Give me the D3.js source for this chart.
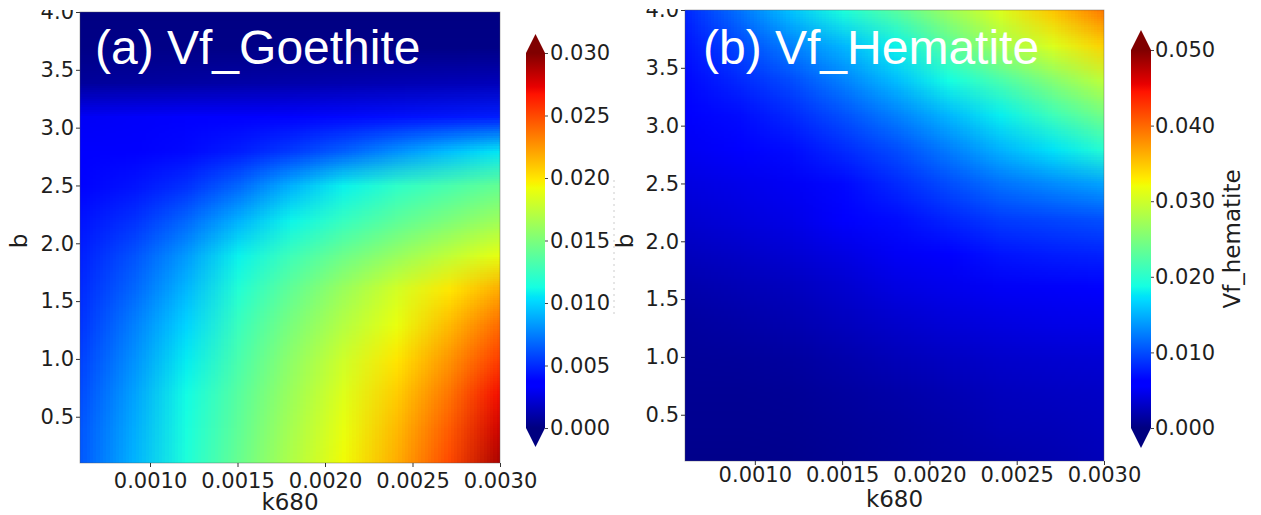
<!DOCTYPE html>
<html>
<head>
<meta charset="utf-8">
<script src="https://cdn.jsdelivr.net/npm/d3@7"></script>
<style>
  html, body { margin: 0; padding: 0; background: #fff; }
  svg { display: block; }
</style>
</head>
<body>
<div id="chart"></div>
<script>
// Grid the two maps were read on
const kValues = [0.0006, 0.0009, 0.0012, 0.0015, 0.0018, 0.0021, 0.0024, 0.0027, 0.0030];
const bValues = [0.1, 0.4, 0.7, 1.0, 1.3, 1.6, 1.9, 2.2, 2.5, 2.8, 3.1, 3.4, 3.7, 4.0];

// Vf_Goethite, one row per b value (bottom row first)
const goethite = [
    [0.0064, 0.0090, 0.0116, 0.0143, 0.0169, 0.0193, 0.0218, 0.0250, 0.0290],
    [0.0063, 0.0088, 0.0114, 0.0140, 0.0166, 0.0190, 0.0214, 0.0244, 0.0280],
    [0.0060, 0.0085, 0.0112, 0.0137, 0.0162, 0.0186, 0.0208, 0.0236, 0.0270],
    [0.0057, 0.0080, 0.0107, 0.0132, 0.0157, 0.0180, 0.0200, 0.0226, 0.0255],
    [0.0053, 0.0075, 0.0100, 0.0126, 0.0150, 0.0171, 0.0190, 0.0214, 0.0240],
    [0.0050, 0.0068, 0.0092, 0.0118, 0.0141, 0.0162, 0.0182, 0.0200, 0.0220],
    [0.0047, 0.0062, 0.0083, 0.0109, 0.0128, 0.0145, 0.0160, 0.0175, 0.0190],
    [0.0043, 0.0052, 0.0068, 0.0090, 0.0110, 0.0125, 0.0139, 0.0151, 0.0163],
    [0.0038, 0.0043, 0.0052, 0.0068, 0.0090, 0.0109, 0.0122, 0.0132, 0.0142],
    [0.0035, 0.0036, 0.0040, 0.0046, 0.0055, 0.0066, 0.0080, 0.0094, 0.0106],
    [0.0031, 0.0032, 0.0034, 0.0036, 0.0038, 0.0040, 0.0042, 0.0044, 0.0046],
    [0.0007, 0.0008, 0.0009, 0.0010, 0.0011, 0.0012, 0.0013, 0.0014, 0.0015],
    [0.0002, 0.0002, 0.0002, 0.0002, 0.0002, 0.0002, 0.0002, 0.0002, 0.0002],
    [0.0001, 0.0001, 0.0001, 0.0001, 0.0001, 0.0001, 0.0001, 0.0001, 0.0001]
];

// Vf_Hematite, same layout
const hematite = [
    [0.0005, 0.0005, 0.0006, 0.0009, 0.0012, 0.0015, 0.0018, 0.0021, 0.0025],
    [0.0007, 0.0007, 0.0008, 0.0011, 0.0014, 0.0018, 0.0023, 0.0025, 0.0028],
    [0.0009, 0.0009, 0.0010, 0.0014, 0.0018, 0.0022, 0.0027, 0.0029, 0.0031],
    [0.0011, 0.0012, 0.0014, 0.0019, 0.0025, 0.0029, 0.0033, 0.0035, 0.0037],
    [0.0014, 0.0017, 0.0021, 0.0027, 0.0033, 0.0038, 0.0042, 0.0045, 0.0047],
    [0.0019, 0.0023, 0.0027, 0.0034, 0.0042, 0.0047, 0.0051, 0.0053, 0.0055],
    [0.0027, 0.0031, 0.0036, 0.0043, 0.0051, 0.0061, 0.0072, 0.0076, 0.0079],
    [0.0035, 0.0040, 0.0045, 0.0056, 0.0068, 0.0080, 0.0092, 0.0097, 0.0102],
    [0.0042, 0.0046, 0.0051, 0.0066, 0.0082, 0.0100, 0.0118, 0.0130, 0.0142],
    [0.0050, 0.0058, 0.0068, 0.0083, 0.0100, 0.0124, 0.0150, 0.0174, 0.0198],
    [0.0057, 0.0068, 0.0082, 0.0102, 0.0125, 0.0152, 0.0180, 0.0212, 0.0245],
    [0.0066, 0.0082, 0.0100, 0.0126, 0.0155, 0.0187, 0.0220, 0.0256, 0.0292],
    [0.0073, 0.0098, 0.0125, 0.0152, 0.0182, 0.0228, 0.0274, 0.0308, 0.0345],
    [0.0082, 0.0118, 0.0158, 0.0192, 0.0227, 0.0268, 0.0308, 0.0350, 0.0392]
];

const kTicks = [0.0010, 0.0015, 0.0020, 0.0025, 0.0030];
const bTicks = [0.5, 1.0, 1.5, 2.0, 2.5, 3.0, 3.5, 4.0];
const goethiteTicks = [0, 0.005, 0.010, 0.015, 0.020, 0.025, 0.030];
const hematiteTicks = [0, 0.010, 0.020, 0.030, 0.040, 0.050];

// matplotlib "jet", channel by channel
const jetR = d3.scaleLinear().domain([0, 0.35, 0.66, 0.89, 1]).range([0, 0, 1, 1, 0.5]).clamp(true);
const jetG = d3.scaleLinear().domain([0, 0.125, 0.375, 0.64, 0.91, 1]).range([0, 0, 1, 1, 0, 0]).clamp(true);
const jetB = d3.scaleLinear().domain([0, 0.11, 0.34, 0.65, 1]).range([0.5, 1, 1, 0, 0]).clamp(true);
const jetStops = [0, 0.11, 0.125, 0.34, 0.35, 0.375, 0.64, 0.65, 0.66, 0.89, 0.91, 1];
function jet(t) {
    return d3.rgb(Math.round(jetR(t) * 255), Math.round(jetG(t) * 255), Math.round(jetB(t) * 255));
}

const svg = d3.select("#chart")
    .append("svg")
    .attr("width", 1261)
    .attr("height", 515);

const tickFont = "'DejaVu Sans', sans-serif";

function drawPanel(p) {
    const x = d3.scaleLinear().domain([0.0006, 0.0030]).range([p.left, p.right]);
    const y = d3.scaleLinear().domain([0.1, 4.0]).range([p.bottom, p.top]);
    const color = d3.scaleLinear().domain([0, p.vmax]).range([0, 1]).clamp(true);

    const defs = svg.append("defs");
    // clip for the map
    defs.append("clipPath").attr("id", "clip-" + p.id)
        .append("rect")
        .attr("x", p.left).attr("y", p.top)
        .attr("width", p.right - p.left).attr("height", p.bottom - p.top);
    // the source figure was cropped just above the plot, cutting the top tick label
    defs.append("clipPath").attr("id", "crop-" + p.id)
        .append("rect")
        .attr("x", p.left - 90).attr("y", p.cropTop)
        .attr("width", 90).attr("height", 515);

    // paint the grid into a tiny bitmap, let the browser smooth it when stretched
    const nx = kValues.length, ny = bValues.length;
    const canvas = document.createElement("canvas");
    canvas.width = nx;
    canvas.height = ny;
    const ctx = canvas.getContext("2d");
    const img = ctx.createImageData(nx, ny);
    p.data.forEach((row, j) => {
        const r = ny - 1 - j;
        row.forEach((v, i) => {
            const c = jet(color(v));
            const o = (r * nx + i) * 4;
            img.data[o] = c.r;
            img.data[o + 1] = c.g;
            img.data[o + 2] = c.b;
            img.data[o + 3] = 255;
        });
    });
    ctx.putImageData(img, 0, 0);

    const dk = kValues[1] - kValues[0];
    const db = bValues[1] - bValues[0];
    const x0 = x(kValues[0] - dk / 2), x1 = x(kValues[nx - 1] + dk / 2);
    const y0 = y(bValues[ny - 1] + db / 2), y1 = y(bValues[0] - db / 2);

    svg.append("g").attr("clip-path", `url(#clip-${p.id})`)
        .append("image")
        .attr("href", canvas.toDataURL())
        .attr("x", x0).attr("y", y0)
        .attr("width", x1 - x0).attr("height", y1 - y0)
        .attr("preserveAspectRatio", "none");

    // frame
    svg.append("rect")
        .attr("x", p.left).attr("y", p.top)
        .attr("width", p.right - p.left).attr("height", p.bottom - p.top)
        .attr("fill", "none")
        .attr("stroke", "#555")
        .attr("stroke-opacity", 0.5)
        .attr("stroke-width", 0.8);

    // X axis
    const xAxis = svg.append("g")
        .attr("transform", `translate(0,${p.bottom})`)
        .call(d3.axisBottom(x).tickValues(kTicks).tickFormat(d3.format(".4f"))
            .tickSize(4).tickPadding(p.xPad).tickSizeOuter(0));
    // Y axis
    const yAxis = svg.append("g")
        .attr("clip-path", `url(#crop-${p.id})`)
        .append("g")
        .attr("transform", `translate(${p.left},0)`)
        .call(d3.axisLeft(y).tickValues(bTicks).tickFormat(d3.format(".1f"))
            .tickSize(4).tickPadding(2).tickSizeOuter(0));
    [xAxis, yAxis].forEach(a => {
        a.select(".domain").remove();
        a.selectAll("line").attr("stroke", "#333");
        a.selectAll("text")
            .style("font-family", tickFont)
            .style("font-size", "21px")
            .attr("fill", "#1e1e1e");
    });

    // axis labels
    svg.append("text")
        .attr("x", (p.left + p.right) / 2)
        .attr("y", p.xLabelY)
        .attr("text-anchor", "middle")
        .style("font-family", tickFont)
        .style("font-size", "23px")
        .attr("fill", "#1e1e1e")
        .text("k680");

    svg.append("text")
        .attr("transform", `translate(${p.yLabelX},241) rotate(-90)`)
        .attr("text-anchor", "middle")
        .style("font-family", tickFont)
        .style("font-size", "23px")
        .attr("fill", "#1e1e1e")
        .text("b");

    // title inside the map
    svg.append("text")
        .attr("x", p.titleX)
        .attr("y", 64)
        .style("font-family", "'Liberation Sans', Arial, sans-serif")
        .style("font-size", "48px")
        .attr("fill", "#fff")
        .text(p.title);

    // colorbar
    const cb = p.cbar;
    const cy = d3.scaleLinear().domain([0, p.vmax]).range([cb.bottom, cb.top]);
    const grad = defs.append("linearGradient")
        .attr("id", "grad-" + p.id)
        .attr("x1", 0).attr("y1", 1).attr("x2", 0).attr("y2", 0);
    grad.selectAll("stop")
        .data(jetStops)
        .enter()
        .append("stop")
        .attr("offset", d => d)
        .attr("stop-color", d => jet(d).formatHex());

    svg.append("rect")
        .attr("x", cb.x).attr("y", cb.top)
        .attr("width", cb.w).attr("height", cb.bottom - cb.top)
        .attr("fill", `url(#grad-${p.id})`);

    // extend='both' arrows
    svg.append("path")
        .attr("d", `M${cb.x},${cb.top}L${cb.x + cb.w},${cb.top}L${cb.x + cb.w / 2},${cb.top - cb.ext}Z`)
        .attr("fill", jet(1).formatHex());
    svg.append("path")
        .attr("d", `M${cb.x},${cb.bottom}L${cb.x + cb.w},${cb.bottom}L${cb.x + cb.w / 2},${cb.bottom + cb.ext}Z`)
        .attr("fill", jet(0).formatHex());

    const cAxis = svg.append("g")
        .attr("transform", `translate(${cb.x + cb.w},0)`)
        .call(d3.axisRight(cy).tickValues(p.cticks).tickFormat(d3.format(".3f"))
            .tickSize(3).tickPadding(cb.pad).tickSizeOuter(0));
    cAxis.select(".domain").remove();
    cAxis.selectAll("line").attr("stroke", "#444");
    cAxis.selectAll("text")
        .style("font-family", tickFont)
        .style("font-size", "21px")
        .attr("fill", "#1e1e1e");

    if (p.cbarLabel) {
        svg.append("text")
            .attr("transform", `translate(${p.cbarLabelX},${(cb.top + cb.bottom) / 2}) rotate(-90)`)
            .attr("text-anchor", "middle")
            .style("font-family", tickFont)
            .style("font-size", "23px")
            .attr("fill", "#1e1e1e")
            .text(p.cbarLabel);
    }
}

drawPanel({
    id: "a",
    left: 80, right: 500, top: 12, bottom: 463, cropTop: 10,
    data: goethite, vmax: 0.030, cticks: goethiteTicks,
    title: "(a) Vf_Goethite", titleX: 95,
    xPad: 6, xLabelY: 510, yLabelX: 27,
    cbar: { x: 526, w: 19, top: 53, bottom: 428, ext: 19, pad: 2 }
});

drawPanel({
    id: "b",
    left: 685, right: 1104, top: 10, bottom: 461, cropTop: 9,
    data: hematite, vmax: 0.050, cticks: hematiteTicks,
    title: "(b) Vf_Hematite", titleX: 703,
    xPad: 2, xLabelY: 507, yLabelX: 633,
    cbar: { x: 1131, w: 20, top: 50, bottom: 428, ext: 20, pad: 1 },
    cbarLabel: "Vf_hematite", cbarLabelX: 1240
});

// faint remnant of the cropped colorbar label between the panels
svg.append("line")
    .attr("x1", 614).attr("x2", 614)
    .attr("y1", 180).attr("y2", 317)
    .attr("stroke", "#ccc")
    .attr("stroke-dasharray", "2,4")
    .attr("stroke-width", 1);
</script>
</body>
</html>
